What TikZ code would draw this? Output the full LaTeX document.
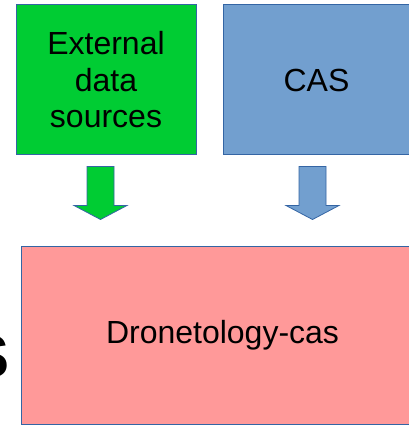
\documentclass[tikz,border=0pt]{standalone}
\usepackage{fontspec}
\setmainfont{Liberation Sans}
\usepackage{xcolor}
\usetikzlibrary{positioning, calc}

\definecolor{srcgreen}{HTML}{00CC33}
\definecolor{casblue}{HTML}{729FCF}
\definecolor{dronepink}{HTML}{FF9999}
\definecolor{edgeblue}{HTML}{3465A4}

\begin{document}
\begin{tikzpicture}[
    box/.style={draw=edgeblue, line width=1pt, minimum height=150pt, align=center, inner sep=0pt,
        font=\fontsize{32}{36.5}\selectfont},
    blockarrow/.style={draw=edgeblue, line width=0.8pt, line join=miter}
]
\useasboundingbox (0,0) rectangle (408pt,-427pt);

% Sources
\node[box, fill=srcgreen, minimum width=180pt] (ext) at (106pt,-80pt) {External\\data\\sources};
\node[box, fill=casblue, minimum width=187pt, right=26pt of ext] (cas) {CAS};

% Target
\node[box, fill=dronepink, minimum width=402pt, minimum height=178pt, anchor=north west] (drone) at (21pt,-246pt) {Dronetology-cas};

% Arrows
\draw[blockarrow, fill=srcgreen] ($(ext.south)+(-19pt,-11pt)$) -- ++(27pt,0) -- ++(0,-39pt) -- ++(13pt,0)
    -- ++(-26.5pt,-14pt) -- ++(-26.5pt,14pt) -- ++(13pt,0) -- cycle;
\draw[blockarrow, fill=casblue] ($(cas.south)+(-17.5pt,-11pt)$) -- ++(27pt,0) -- ++(0,-39pt) -- ++(13pt,0)
    -- ++(-26.5pt,-14pt) -- ++(-26.5pt,14pt) -- ++(13pt,0) -- cycle;

% Cut-off letter on the left
\node[font=\fontsize{60}{60}\bfseries\selectfont, inner sep=0pt, anchor=base east] (cutS) at (10pt,-377pt) {S};

\end{tikzpicture}
\end{document}
